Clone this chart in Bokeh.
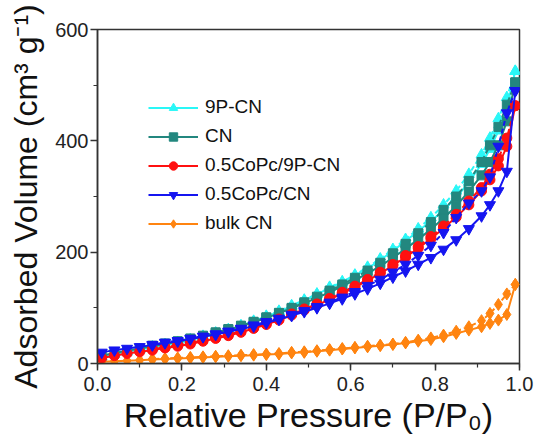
from bokeh.plotting import figure
from bokeh.models import SingleIntervalTicker, Legend, LegendItem, Range1d, PrintfTickFormatter
from bokeh.embed import file_html
from bokeh.resources import INLINE

P_ADS = [0.01, 0.04, 0.07, 0.10, 0.13, 0.16, 0.19, 0.22, 0.25, 0.28, 0.31, 0.34, 0.37, 0.40,
         0.43, 0.46, 0.49, 0.52, 0.55, 0.58, 0.61, 0.64, 0.67, 0.70, 0.73, 0.76, 0.79, 0.82,
         0.85, 0.88, 0.91, 0.93, 0.95, 0.97, 0.99]
P_DES = [0.99, 0.97, 0.95, 0.93, 0.91, 0.88, 0.85, 0.82, 0.79, 0.76, 0.73, 0.70, 0.67, 0.64,
         0.61, 0.58, 0.55, 0.52, 0.49, 0.46, 0.43, 0.40, 0.37, 0.34, 0.31, 0.28, 0.25, 0.22,
         0.19, 0.16, 0.13]

cyan_ads = [12, 17, 21, 25, 29, 33, 37, 42, 48, 54, 60, 67, 75, 84, 93, 103, 113, 124, 136, 146,
            158, 171, 186, 202, 220, 238, 256, 275, 298, 326, 358, 385, 418, 460, 525]
cyan_des = [525, 478, 440, 405, 375, 340, 310, 285, 262, 242, 223, 205, 188, 173, 159, 147, 137,
            125, 114, 104, 94, 85, 76, 68, 61, 55, 49, 43, 38, 34, 30]
cn_ads = [14, 19, 23, 27, 31, 35, 39, 44, 49, 55, 61, 67, 74, 82, 90, 99, 108, 118, 128, 139,
          150, 162, 175, 190, 206, 223, 241, 261, 283, 309, 338, 362, 392, 435, 505]
cn_des = [505, 465, 425, 392, 362, 328, 300, 276, 254, 234, 215, 198, 181, 167, 154, 142, 131,
          120, 110, 100, 91, 83, 75, 68, 62, 56, 50, 45, 40, 36, 32]
red_ads = [10, 14, 18, 21, 24, 28, 31, 35, 40, 45, 50, 56, 63, 70, 78, 87, 96, 105, 115, 126,
           137, 149, 162, 176, 191, 207, 224, 243, 263, 285, 310, 330, 355, 390, 463]
red_des = [463, 405, 368, 340, 316, 292, 268, 247, 228, 210, 194, 178, 164, 151, 139, 128, 117,
           107, 98, 89, 80, 72, 65, 58, 52, 47, 42, 37, 33, 29, 26]
blue_ads = [20, 24, 27, 30, 33, 37, 40, 44, 48, 52, 57, 62, 67, 73, 79, 86, 93, 100, 108, 116,
            125, 134, 144, 155, 166, 178, 190, 205, 222, 242, 265, 285, 310, 345, 490]
blue_des = [490, 450, 390, 335, 310, 288, 262, 235, 212, 194, 178, 164, 151, 140, 129, 119, 110,
            102, 95, 88, 81, 75, 69, 63, 58, 53, 49, 45, 41, 38, 34]
bulk_ads = [3, 4, 5, 6, 7, 8, 9, 10, 11, 12, 13, 14, 15, 16, 17, 19, 20, 22, 24, 26, 28, 30, 32,
            34, 37, 40, 43, 48, 54, 60, 66, 72, 78, 88, 142]
bulk_des = [142, 125, 106, 90, 77, 66, 58, 51, 46, 42, 38, 35, 33, 31, 29, 27, 25, 23, 21, 20,
            18, 17, 16, 15, 14, 13, 12, 11, 10, 9, 8]

LABELS = ["9P-CN", "CN", "0.5CoPc/9P-CN", "0.5CoPc/CN", "bulk CN"]

FONT = "Liberation Sans"

p = figure(width=536, height=437, output_backend="svg", toolbar_location=None,
           x_range=Range1d(0, 1.0), y_range=Range1d(0, 600),
           min_border_left=97, min_border_right=17, min_border_top=29, min_border_bottom=74)
p.grid.visible = False
p.outline_line_color = "#333333"
p.outline_line_width = 1.5
p.background_fill_color = "white"
p.border_fill_color = "white"

series = [
    # label, ads, des, color, marker, size
    ("bulk CN", bulk_ads, bulk_des, "#FF8410", "diamond", 12),
    ("9P-CN", cyan_ads, cyan_des, "#2AF7F7", "triangle", 11),
    ("CN", cn_ads, cn_des, "#23877F", "square", 9),
    ("0.5CoPc/9P-CN", red_ads, red_des, "#FF1010", "circle", 10),
    ("0.5CoPc/CN", blue_ads, blue_des, "#1515F0", "inverted_triangle", 11),
]

legend_map = {}
for label, ads, des, color, marker, size in series:
    r1 = p.line(P_ADS, ads, line_color=color, line_width=2)
    r2 = p.scatter(P_ADS, ads, marker=marker, size=size, fill_color=color, line_color=color)
    p.line(P_DES, des, line_color=color, line_width=2, line_dash="5 3")
    p.scatter(P_DES, des, marker=marker, size=size, fill_color=color, line_color=color)
    legend_map[label] = [r1, r2]

items = [LegendItem(label=lab, renderers=legend_map[lab]) for lab in LABELS]
legend = Legend(items=items, location=(51, 129), padding=0, margin=0,
                border_line_color=None, background_fill_alpha=0,
                glyph_width=50, glyph_height=21, label_height=21, spacing=7,
                label_text_font=FONT, label_text_font_size="19px",
                label_text_color="#111111", label_standoff=7)
p.add_layout(legend, "center")

for ax in (p.xaxis[0], p.yaxis[0]):
    ax.axis_line_color = "#333333"
    ax.axis_line_width = 1.5
    ax.major_tick_line_color = "#333333"
    ax.minor_tick_line_color = "#333333"
    ax.major_tick_line_width = 1.5
    ax.minor_tick_line_width = 1.2
    ax.major_tick_out = 7
    ax.major_tick_in = 0
    ax.minor_tick_out = 4
    ax.minor_tick_in = 0
    ax.major_label_text_font = FONT
    ax.major_label_text_font_size = "20px"
    ax.major_label_text_color = "#222222"
    ax.axis_label_text_font = FONT
    ax.axis_label_text_font_style = "normal"
    ax.axis_label_text_color = "#111111"

p.xaxis[0].ticker = SingleIntervalTicker(interval=0.2, num_minor_ticks=2)
p.xaxis[0].formatter = PrintfTickFormatter(format="%.1f")
p.yaxis[0].ticker = SingleIntervalTicker(interval=200, num_minor_ticks=2)
p.xaxis[0].axis_label = "Relative Pressure (P/P\u2080)"
p.yaxis[0].axis_label = "Adsorbed Volume (cm\u00b3 g\u207b\u00b9)"
p.xaxis[0].axis_label_text_font_size = "34px"
p.yaxis[0].axis_label_text_font_size = "32px"
p.xaxis[0].major_label_standoff = 6
p.yaxis[0].major_label_standoff = 2
p.xaxis[0].axis_label_standoff = 2
p.yaxis[0].axis_label_standoff = 8

open("out.html", "w").write(file_html(p, INLINE))
